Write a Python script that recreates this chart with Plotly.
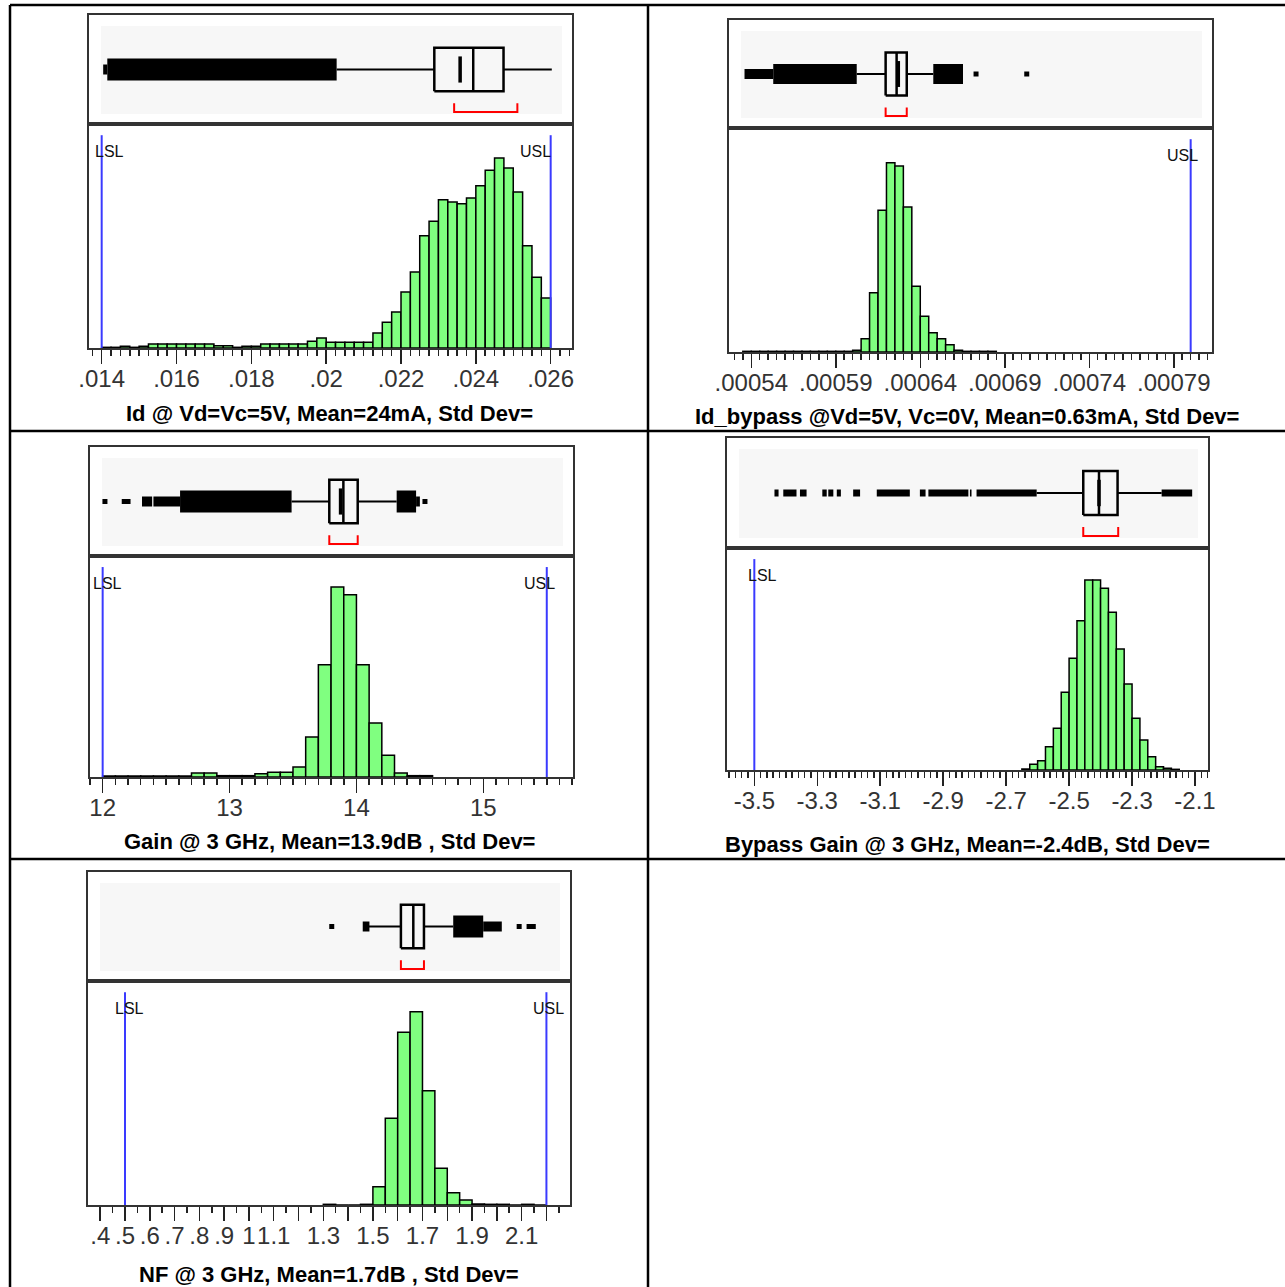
import plotly.graph_objects as go

W, H = 1285, 1287

# ---------------- data: Id @ Vd=Vc=5V ----------------
id_bin_start = 0.014
id_bin_width = 0.00025
id_counts = [2, 2, 5, 2, 5, 12, 12, 12, 12, 12, 12, 12, 7, 7, 2, 5, 5, 12, 12, 12, 12, 12, 20, 30,
             17, 17, 17, 17, 17, 45, 77, 108, 168, 228, 337, 380, 445, 438, 433, 450, 487, 533, 570,
             540, 468, 307, 212, 150]
id_q1, id_median, id_q3 = 0.02289, 0.02393, 0.02474
id_whisker_lo, id_whisker_hi = 0.02028, 0.02603
id_mean = 0.02358
id_shortest_half = [0.02342, 0.02511]
id_outlier_bands = [[0.01415, 0.02028]]
id_outlier_sparse = [[0.01404, 0.01415]]
id_outlier_points = []
id_lsl, id_usl = 0.014, 0.026
id_tickvals = [0.014, 0.016, 0.018, 0.020, 0.022, 0.024, 0.026]
id_ticktext = [".014", ".016", ".018", ".02", ".022", ".024", ".026"]
id_caption = "Id @ Vd=Vc=5V, Mean=24mA, Std Dev="

# ---------------- data: Id_bypass ----------------
byp_bin_start = 0.000535
byp_bin_width = 0.000005
byp_counts = [2, 2, 2, 2, 2, 2, 2, 2, 2, 2, 2, 2, 2,
              5, 40, 178, 425, 568, 558, 435, 197, 107, 58, 40, 22, 5,
              2, 2, 2, 2]
byp_q1, byp_median, byp_q3 = 0.0006195, 0.000626, 0.000632
byp_whisker_lo, byp_whisker_hi = 0.0006024, 0.0006477
byp_mean = 0.000627
byp_shortest_half = [0.0006195, 0.000632]
byp_outlier_bands = [[0.000553, 0.0006024], [0.0006477, 0.0006653]]
byp_outlier_sparse = [[0.000536, 0.000553]]
byp_outlier_points = [0.000673, 0.000703]
byp_lsl, byp_usl = None, 0.0008
byp_tickvals = [0.00054, 0.00059, 0.00064, 0.00069, 0.00074, 0.00079]
byp_ticktext = [".00054", ".00059", ".00064", ".00069", ".00074", ".00079"]
byp_caption = "Id_bypass @Vd=5V, Vc=0V, Mean=0.63mA, Std Dev="

# ---------------- data: Gain @ 3 GHz ----------------
gain_bin_start = 12.0
gain_bin_width = 0.1
gain_counts = [3, 3, 3, 3, 3, 3, 3, 12, 12, 4, 4, 4, 10, 14, 14, 30,
               120, 337, 570, 547, 337, 162, 65, 12, 4, 4]
gain_q1, gain_median, gain_q3 = 13.786, 13.897, 14.01
gain_whisker_lo, gain_whisker_hi = 13.489, 14.317
gain_mean = 13.875
gain_shortest_half = [13.786, 14.01]
gain_outlier_bands = [[12.61, 13.489], [14.317, 14.47]]
gain_outlier_sparse = [[12.40, 12.61], [12.31, 12.39], [14.47, 14.50]]
gain_outlier_points = [12.018, 12.17, 12.2, 14.54]
gain_lsl, gain_usl = 12.0, 15.5
gain_tickvals = [12, 13, 14, 15]
gain_ticktext = ["12", "13", "14", "15"]
gain_caption = "Gain @ 3 GHz, Mean=13.9dB , Std Dev="

# ---------------- data: Bypass Gain @ 3 GHz ----------------
bg_bin_start = -2.65
bg_bin_width = 0.025
bg_counts = [3, 17, 28, 70, 125, 233, 335, 448, 570, 570, 545, 473, 363, 258, 155, 90, 40, 10, 5, 2]
bg_q1, bg_median, bg_q3 = -2.455, -2.405, -2.346
bg_whisker_lo, bg_whisker_hi = -2.603, -2.206
bg_mean = -2.405
bg_shortest_half = [-2.455, -2.344]
bg_outlier_bands = [[-3.436, -3.423], [-3.408, -3.366], [-3.355, -3.334], [-3.284, -3.270],
                    [-3.265, -3.249], [-3.238, -3.225], [-3.186, -3.164], [-3.111, -3.006],
                    [-2.974, -2.956], [-2.947, -2.820], [-2.815, -2.810], [-2.794, -2.603],
                    [-2.206, -2.109]]
bg_outlier_sparse = []
bg_outlier_points = []
bg_lsl, bg_usl = -3.5, None
bg_tickvals = [-3.5, -3.3, -3.1, -2.9, -2.7, -2.5, -2.3, -2.1]
bg_ticktext = ["-3.5", "-3.3", "-3.1", "-2.9", "-2.7", "-2.5", "-2.3", "-2.1"]
bg_caption = "Bypass Gain @ 3 GHz, Mean=-2.4dB, Std Dev="

# ---------------- data: NF @ 3 GHz ----------------
nf_bin_start = 1.3
nf_bin_width = 0.05
nf_counts = [2, 0, 0, 2, 55, 260, 518, 580, 343, 110, 37, 15, 3, 2, 2, 0, 2, 0]
nf_q1, nf_median, nf_q3 = 1.613, 1.663, 1.706
nf_whisker_lo, nf_whisker_hi = 1.475, 1.824
nf_mean = None
nf_shortest_half = [1.613, 1.706]
nf_outlier_bands = [[1.824, 1.945]]
nf_outlier_sparse = [[1.945, 2.02], [1.459, 1.486]]
nf_outlier_points = [1.334, 2.09, 2.13, 2.147]
nf_lsl, nf_usl = 0.5, 2.2
nf_tickvals = [0.4, 0.5, 0.6, 0.7, 0.8, 0.9, 1.0, 1.1, 1.2, 1.3, 1.4, 1.5, 1.6, 1.7, 1.8, 1.9, 2.0, 2.1, 2.2]
nf_ticktext = [".4", ".5", ".6", ".7", ".8", ".9", "1", "1.1", "", "1.3", "", "1.5", "", "1.7", "", "1.9", "", "2.1", ""]
nf_caption = "NF @ 3 GHz, Mean=1.7dB , Std Dev="

# ---------------- layout / style per panel (pixels) ----------------
panels = [
    dict(counts=id_counts, b0=id_bin_start, bw=id_bin_width,
         stats=(id_q1, id_median, id_q3, id_whisker_lo, id_whisker_hi, id_mean),
         sh=id_shortest_half, bands=id_outlier_bands, sparse=id_outlier_sparse,
         points=id_outlier_points, lsl=id_lsl, usl=id_usl,
         tv=id_tickvals, tt=id_ticktext, cap=id_caption,
         left=89, right=572, top=15, sep=124, bottom=348, xr=[0.013661, 0.026570],
         mdt=0.00025, mt0=0.014, band_w=22, lsl_sh=8, usl_sh=-15, capx=329, capy=413),
    dict(counts=byp_counts, b0=byp_bin_start, bw=byp_bin_width,
         stats=(byp_q1, byp_median, byp_q3, byp_whisker_lo, byp_whisker_hi, byp_mean),
         sh=byp_shortest_half, bands=byp_outlier_bands, sparse=byp_outlier_sparse,
         points=byp_outlier_points, lsl=byp_lsl, usl=byp_usl,
         tv=byp_tickvals, tt=byp_ticktext, cap=byp_caption,
         left=729, right=1212, top=20, sep=128, bottom=352, xr=[0.00052682, 0.00081262],
         mdt=0.000005, mt0=0.00054, band_w=20, lsl_sh=8, usl_sh=-8, capx=967, capy=416),
    dict(counts=gain_counts, b0=gain_bin_start, bw=gain_bin_width,
         stats=(gain_q1, gain_median, gain_q3, gain_whisker_lo, gain_whisker_hi, gain_mean),
         sh=gain_shortest_half, bands=gain_outlier_bands, sparse=gain_outlier_sparse,
         points=gain_outlier_points, lsl=gain_lsl, usl=gain_usl,
         tv=gain_tickvals, tt=gain_ticktext, cap=gain_caption,
         left=90, right=573, top=447, sep=556, bottom=777, xr=[11.9002, 15.7067],
         mdt=0.1, mt0=12, band_w=22, lsl_sh=5, usl_sh=-7, capx=329, capy=841),
    dict(counts=bg_counts, b0=bg_bin_start, bw=bg_bin_width,
         stats=(bg_q1, bg_median, bg_q3, bg_whisker_lo, bg_whisker_hi, bg_mean),
         sh=bg_shortest_half, bands=bg_outlier_bands, sparse=bg_outlier_sparse,
         points=bg_outlier_points, lsl=bg_lsl, usl=bg_usl,
         tv=bg_tickvals, tt=bg_ticktext, cap=bg_caption,
         left=727, right=1208, top=438, sep=548, bottom=770, xr=[-3.5868, -2.0587],
         mdt=0.02, mt0=-3.5, band_w=7, lsl_sh=8, usl_sh=-8, capx=967, capy=844),
    dict(counts=nf_counts, b0=nf_bin_start, bw=nf_bin_width,
         stats=(nf_q1, nf_median, nf_q3, nf_whisker_lo, nf_whisker_hi, nf_mean),
         sh=nf_shortest_half, bands=nf_outlier_bands, sparse=nf_outlier_sparse,
         points=nf_outlier_points, lsl=nf_lsl, usl=nf_usl,
         tv=nf_tickvals, tt=nf_ticktext, cap=nf_caption,
         left=88, right=570, top=872, sep=981, bottom=1205, xr=[0.35075, 2.2951],
         mdt=0.05, mt0=0.4, band_w=22, lsl_sh=4, usl_sh=2, capx=329, capy=1274),
]

FRAME = "#333333"
GREEN = "#80ff80"
SPEC = "#3a3aff"
BOXBG = "#f7f7f7"
TICKFONT = dict(family="Liberation Sans, Arial, sans-serif", size=24, color="#333333")
CAPFONT = dict(family="Liberation Sans, Arial, sans-serif", size=22,
               color="#000000", weight="bold")
SPECFONT = dict(family="Liberation Sans, Arial, sans-serif", size=16, color="#111111")


def ax_names(n):
    s = "" if n == 1 else str(n)
    return f"x{s}", f"y{s}", f"xaxis{s}", f"yaxis{s}"


def seg_xy(segs):
    xs, ys = [], []
    for a, b in segs:
        xs += [a, b, None]
        ys += [0.5, 0.5, None]
    return xs, ys


fig = go.Figure()
shapes, annotations, axes = [], [], {}

for i, p in enumerate(panels):
    xb, yb, kxb, kyb = ax_names(2 * i + 1)
    xh, yh, kxh, kyh = ax_names(2 * i + 2)
    xdom = [p["left"] / W, p["right"] / W]
    common = dict(showgrid=False, zeroline=False, fixedrange=True, showline=True,
                  mirror=True, linecolor=FRAME, linewidth=1.6, automargin=False)
    axes[kxb] = dict(domain=xdom, range=p["xr"], anchor=yb, showticklabels=False,
                     ticks="", **common)
    axes[kyb] = dict(domain=[1 - p["sep"] / H, 1 - p["top"] / H], range=[0, 1],
                     anchor=xb, showticklabels=False, ticks="", **common)
    axes[kxh] = dict(domain=xdom, range=p["xr"], anchor=yh, ticks="outside",
                     ticklen=14, tickwidth=1.5, tickcolor="#222222",
                     tickmode="array", tickvals=p["tv"], ticktext=p["tt"],
                     tickfont=TICKFONT, tickangle=0, ticklabelstandoff=-5,
                     minor=dict(ticks="outside", ticklen=6, tickwidth=1.5,
                                tickcolor="#222222", tickmode="linear",
                                tick0=p["mt0"], dtick=p["mdt"]),
                     **common)
    hist_h = 3 * (p["bottom"] - p["sep"])
    axes[kyh] = dict(domain=[1 - p["bottom"] / H, 1 - p["sep"] / H],
                     range=[0, hist_h], anchor=xh, showticklabels=False,
                     ticks="", **common)

    # light gray panel behind the box plot
    pw = p["right"] - p["left"]
    ph = p["sep"] - p["top"]
    shapes.append(dict(type="rect", xref=f"{xb} domain", yref=f"{yb} domain",
                       x0=12 / pw, x1=1 - 10 / pw, y0=10 / ph, y1=1 - 11 / ph,
                       fillcolor=BOXBG, line=dict(width=0), layer="below"))

    # histogram
    centers = [p["b0"] + (k + 0.5) * p["bw"] for k in range(len(p["counts"]))]
    fig.add_trace(go.Bar(x=centers, y=p["counts"], width=p["bw"], xaxis=xh, yaxis=yh,
                         marker=dict(color=GREEN, line=dict(color="#000000", width=1.5)),
                         showlegend=False, hoverinfo="skip"))

    # spec limits
    for val, txt, sh in ((p["lsl"], "LSL", p["lsl_sh"]), (p["usl"], "USL", p["usl_sh"])):
        if val is None:
            continue
        shapes.append(dict(type="line", xref=xh, yref=f"{yh} domain", x0=val, x1=val,
                           y0=0, y1=0.95, line=dict(color=SPEC, width=2)))
        annotations.append(dict(x=val, xref=xh, y=0.877, yref=f"{yh} domain", text=txt,
                                showarrow=False, xanchor="center", yanchor="middle",
                                xshift=sh, font=SPECFONT))

    q1, med, q3, lo, hi, mean = p["stats"]
    if p["bands"]:
        xs, ys = seg_xy(p["bands"])
        fig.add_trace(go.Scatter(x=xs, y=ys, mode="lines", xaxis=xb, yaxis=yb,
                                 line=dict(color="#000000", width=p["band_w"]),
                                 showlegend=False, hoverinfo="skip"))
    if p["sparse"]:
        xs, ys = seg_xy(p["sparse"])
        fig.add_trace(go.Scatter(x=xs, y=ys, mode="lines", xaxis=xb, yaxis=yb,
                                 line=dict(color="#000000", width=min(10, p["band_w"])),
                                 showlegend=False, hoverinfo="skip"))
    if p["points"]:
        fig.add_trace(go.Scatter(x=p["points"], y=[0.5] * len(p["points"]), mode="markers",
                                 xaxis=xb, yaxis=yb,
                                 marker=dict(symbol="square", size=5, color="#000000"),
                                 showlegend=False, hoverinfo="skip"))
    # whiskers
    fig.add_trace(go.Scatter(x=[lo, q1, None, q3, hi], y=[0.5, 0.5, None, 0.5, 0.5],
                             mode="lines", xaxis=xb, yaxis=yb,
                             line=dict(color="#000000", width=2),
                             showlegend=False, hoverinfo="skip"))
    # box
    fig.add_trace(go.Scatter(x=[q1, q3, q3, q1, q1], y=[0.3, 0.3, 0.7, 0.7, 0.3],
                             mode="lines", fill="toself", fillcolor=BOXBG,
                             xaxis=xb, yaxis=yb, line=dict(color="#000000", width=2.5),
                             showlegend=False, hoverinfo="skip"))
    fig.add_trace(go.Scatter(x=[med, med], y=[0.3, 0.7], mode="lines", xaxis=xb, yaxis=yb,
                             line=dict(color="#000000", width=2.5),
                             showlegend=False, hoverinfo="skip"))
    if mean is not None:
        fig.add_trace(go.Scatter(x=[mean, mean], y=[0.38, 0.62], mode="lines",
                                 xaxis=xb, yaxis=yb, line=dict(color="#000000", width=3.5),
                                 showlegend=False, hoverinfo="skip"))
    # shortest half bracket
    s0, s1 = p["sh"]
    fig.add_trace(go.Scatter(x=[s0, s0, s1, s1], y=[0.19, 0.11, 0.11, 0.19], mode="lines",
                             xaxis=xb, yaxis=yb, line=dict(color="#ff0000", width=2),
                             showlegend=False, hoverinfo="skip"))

    annotations.append(dict(x=p["capx"] / W, y=1 - p["capy"] / H, xref="paper", yref="paper",
                            text=p["cap"], showarrow=False, xanchor="center",
                            yanchor="middle", font=CAPFONT))


def hline(py, x0=10, x1=W):
    return dict(type="line", xref="paper", yref="paper", x0=x0 / W, x1=x1 / W,
                y0=1 - py / H, y1=1 - py / H, line=dict(color="#000000", width=2.5))


def vline(px, y0=5, y1=H):
    return dict(type="line", xref="paper", yref="paper", x0=px / W, x1=px / W,
                y0=1 - y0 / H, y1=1 - y1 / H, line=dict(color="#000000", width=2.5))


shapes += [hline(5), hline(431), hline(859), vline(10), vline(648)]

fig.update_layout(width=W, height=H, margin=dict(l=0, r=0, t=0, b=0, pad=0), autosize=False,
                  paper_bgcolor="#ffffff", plot_bgcolor="#ffffff", showlegend=False,
                  barmode="overlay", shapes=shapes, annotations=annotations, **axes)

fig.write_html("out.html", config={"displayModeBar": False, "staticPlot": True},
               post_script="document.body.style.margin='0';document.body.style.overflow='hidden';")
